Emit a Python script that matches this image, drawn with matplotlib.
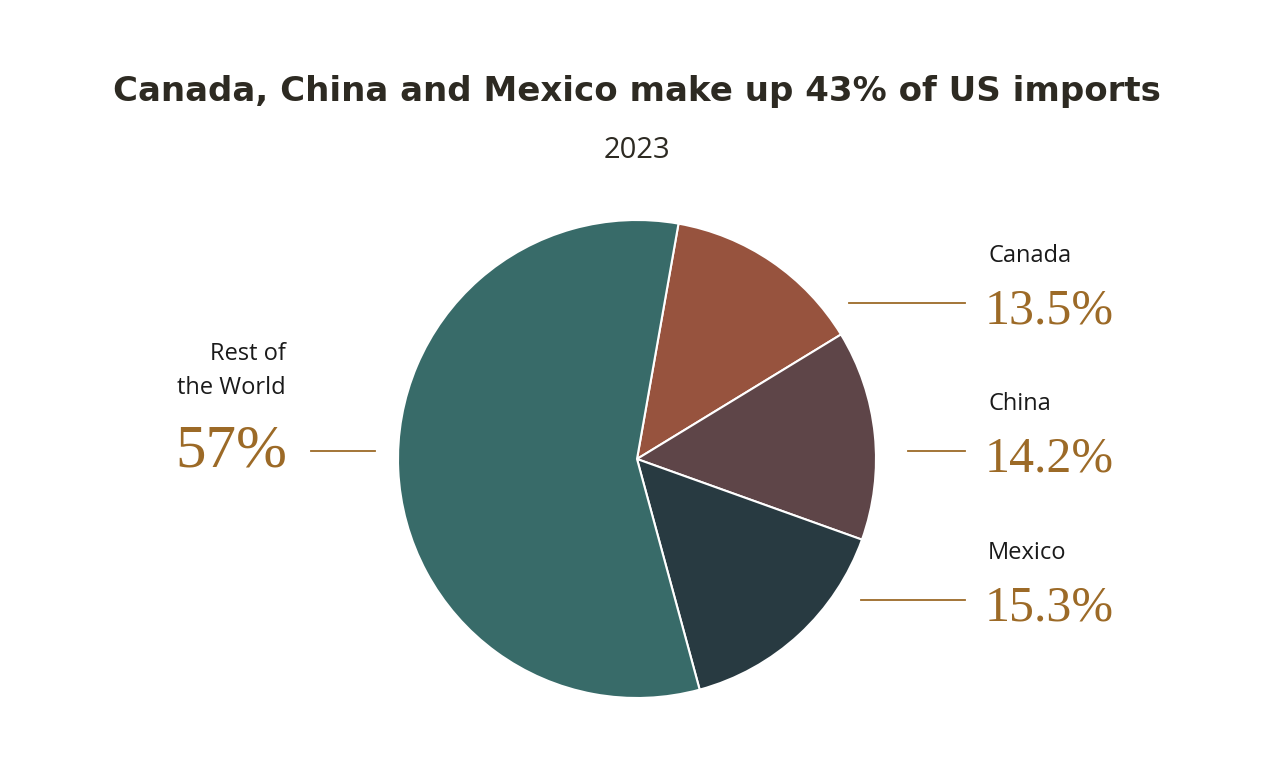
import matplotlib.pyplot as plt
from matplotlib.lines import Line2D

labels = ['Canada', 'China', 'Mexico', 'Rest of\nthe World']
shares = [13.5, 14.2, 15.3, 57.0]
pct_text = ['13.5%', '14.2%', '15.3%', '57%']
colors = ['#97533e', '#5e4548', '#283a41', '#386b69']

W, H = 1274, 768
fig = plt.figure(figsize=(W / 100, H / 100), dpi=100)
fig.patch.set_facecolor('white')

cx, cy, r = 637, 459, 239
ax = fig.add_axes([(cx - r) / W, 1 - (cy + r) / H, 2 * r / W, 2 * r / H])
ax.pie(shares, colors=colors, startangle=80, counterclock=False, radius=1,
       wedgeprops=dict(edgecolor='white', linewidth=1.5))
ax.set_xlim(-1, 1)
ax.set_ylim(-1, 1)
ax.set_aspect('equal')
ax.axis('off')

def fx(x): return x / W
def fy(y): return 1 - y / H

fig.text(fx(637), fy(92), 'Canada, China and Mexico make up 43% of US imports',
         ha='center', va='center', fontsize=24.5, fontweight='bold',
         family='DejaVu Sans', color='#2d2a22')
fig.text(fx(637), fy(150), '2023', ha='center', va='center', fontsize=21,
         family='Open Sans', color='#2d2a22')

gold = '#9c6a27'
# right labels
pos = [(303, 849), (451, 908), (600, 861)]
for i, (y, x0) in enumerate(pos):
    fig.add_artist(Line2D([fx(x0), fx(965)], [fy(y), fy(y)], color=gold, lw=1.3))
    fig.text(fx(988), fy(y - 47), labels[i], ha='left', va='center', fontsize=17,
             family='Open Sans', color='#1a1a1a')
    fig.text(fx(985), fy(y + 8), pct_text[i], ha='left', va='center', fontsize=36,
             family='Liberation Serif', color=gold)

# left label
fig.add_artist(Line2D([fx(311), fx(375)], [fy(451), fy(451)], color=gold, lw=1.3))
fig.text(fx(286), fy(371), labels[3], ha='right', va='center', fontsize=17,
         family='Open Sans', color='#1a1a1a', linespacing=1.6)
fig.text(fx(287), fy(452), pct_text[3], ha='right', va='center', fontsize=44,
         family='Liberation Serif', color=gold)

fig.savefig('out.png', dpi=100, facecolor='white')
